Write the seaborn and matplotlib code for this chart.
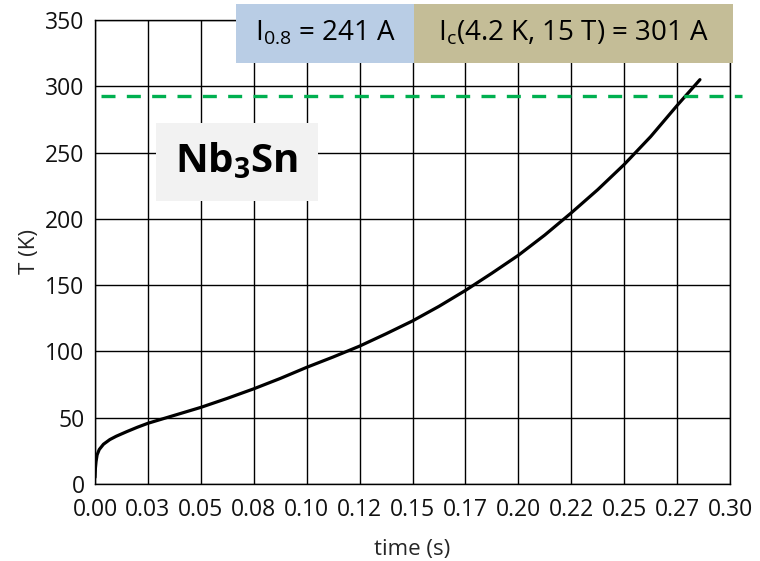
import numpy as np
import pandas as pd
import matplotlib
matplotlib.use("Agg")
import matplotlib.pyplot as plt
from matplotlib.patches import Rectangle
import seaborn as sns

# Quench temperature rise of the Nb3Sn conductor
time_s = [0.0, 0.0002, 0.0005, 0.001, 0.002, 0.004, 0.007, 0.010, 0.015, 0.020,
          0.025, 0.0375, 0.05, 0.0625, 0.075, 0.0875, 0.1, 0.1125, 0.125, 0.1375,
          0.15, 0.1625, 0.175, 0.1875, 0.2, 0.2125, 0.225, 0.2375, 0.25, 0.2625,
          0.275, 0.2858]
temp_K = [5, 12, 17, 22, 26, 30, 33.5, 36, 39.5, 42.8,
          45.8, 51.8, 57.8, 64.6, 71.8, 79.6, 88.0, 95.8, 104.0, 113.3,
          123.0, 134.0, 146.0, 159.0, 172.5, 187.8, 204.5, 222.0, 241.0, 262.0,
          285.5, 305.0]
limit_K = 293

x_ticks = [0.0, 0.025, 0.05, 0.075, 0.1, 0.125, 0.15, 0.175, 0.2, 0.225, 0.25, 0.275, 0.3]
x_tick_labels = ["0.00", "0.03", "0.05", "0.08", "0.10", "0.12", "0.15",
                 "0.17", "0.20", "0.22", "0.25", "0.27", "0.30"]
y_ticks = [0, 50, 100, 150, 200, 250, 300, 350]

current_label = r"$\mathregular{I_{0.8}}$ = 241 A"
critical_label = r"$\mathregular{I_{c}}$(4.2 K, 15 T) = 301 A"
material_label = r"$\mathbf{Nb_{3}Sn}$"

sns.set_style("white")
plt.rcParams["font.family"] = ["Open Sans", "DejaVu Sans"]
plt.rcParams["mathtext.fontset"] = "custom"
plt.rcParams["mathtext.rm"] = "Open Sans"
plt.rcParams["mathtext.it"] = "Open Sans:italic"
plt.rcParams["mathtext.bf"] = "Open Sans:bold"

W, H = 760, 561
fig = plt.figure(figsize=(W / 100, H / 100), dpi=100)
ax = fig.add_axes([95 / W, 1 - 484 / H, (730 - 95) / W, (484 - 20) / H])

df = pd.DataFrame({"time": time_s, "T": temp_K})
sns.lineplot(data=df, x="time", y="T", ax=ax, color="black", lw=2.3, zorder=4)

ax.axhline(limit_K, xmin=0.009, xmax=1.019, color="#00B050", lw=2.4,
           dashes=(4.2, 3.4), clip_on=False, zorder=5)

ax.set_xlim(0, 0.3)
ax.set_ylim(0, 350)
ax.set_xticks(x_ticks)
ax.set_xticklabels(x_tick_labels)
ax.set_yticks(y_ticks)
ax.grid(True, color="black", lw=1.0)
for s in ax.spines.values():
    s.set_color("black")
    s.set_linewidth(1.0)
ax.tick_params(axis="both", which="major", direction="out", length=5.5, width=1,
               color="#555555", labelsize=16.5, labelcolor="#111111")
ax.tick_params(axis="x", pad=4.5)
ax.tick_params(axis="y", pad=2)
ax.set_xlabel("time (s)", fontsize=16, labelpad=12)
ax.set_ylabel("T (K)", fontsize=16, labelpad=4)


def box(x0, y0, x1, y1, color, text, size, weight="normal"):
    fig.patches.append(Rectangle((x0 / W, 1 - y1 / H), (x1 - x0) / W, (y1 - y0) / H,
                                 transform=fig.transFigure, facecolor=color,
                                 edgecolor="none", zorder=6))
    fig.text((x0 + x1) / 2 / W, 1 - (y0 + y1) / 2 / H, text, ha="center", va="center",
             fontsize=size, fontweight=weight, color="black", zorder=7)


box(236, 4, 414, 63, "#B9CDE5", current_label, 20)
box(414, 4, 733, 63, "#C4BD97", critical_label, 20)
box(156, 123, 318, 201, "#F2F2F2", material_label, 29)

fig.savefig("out.png", dpi=100)
